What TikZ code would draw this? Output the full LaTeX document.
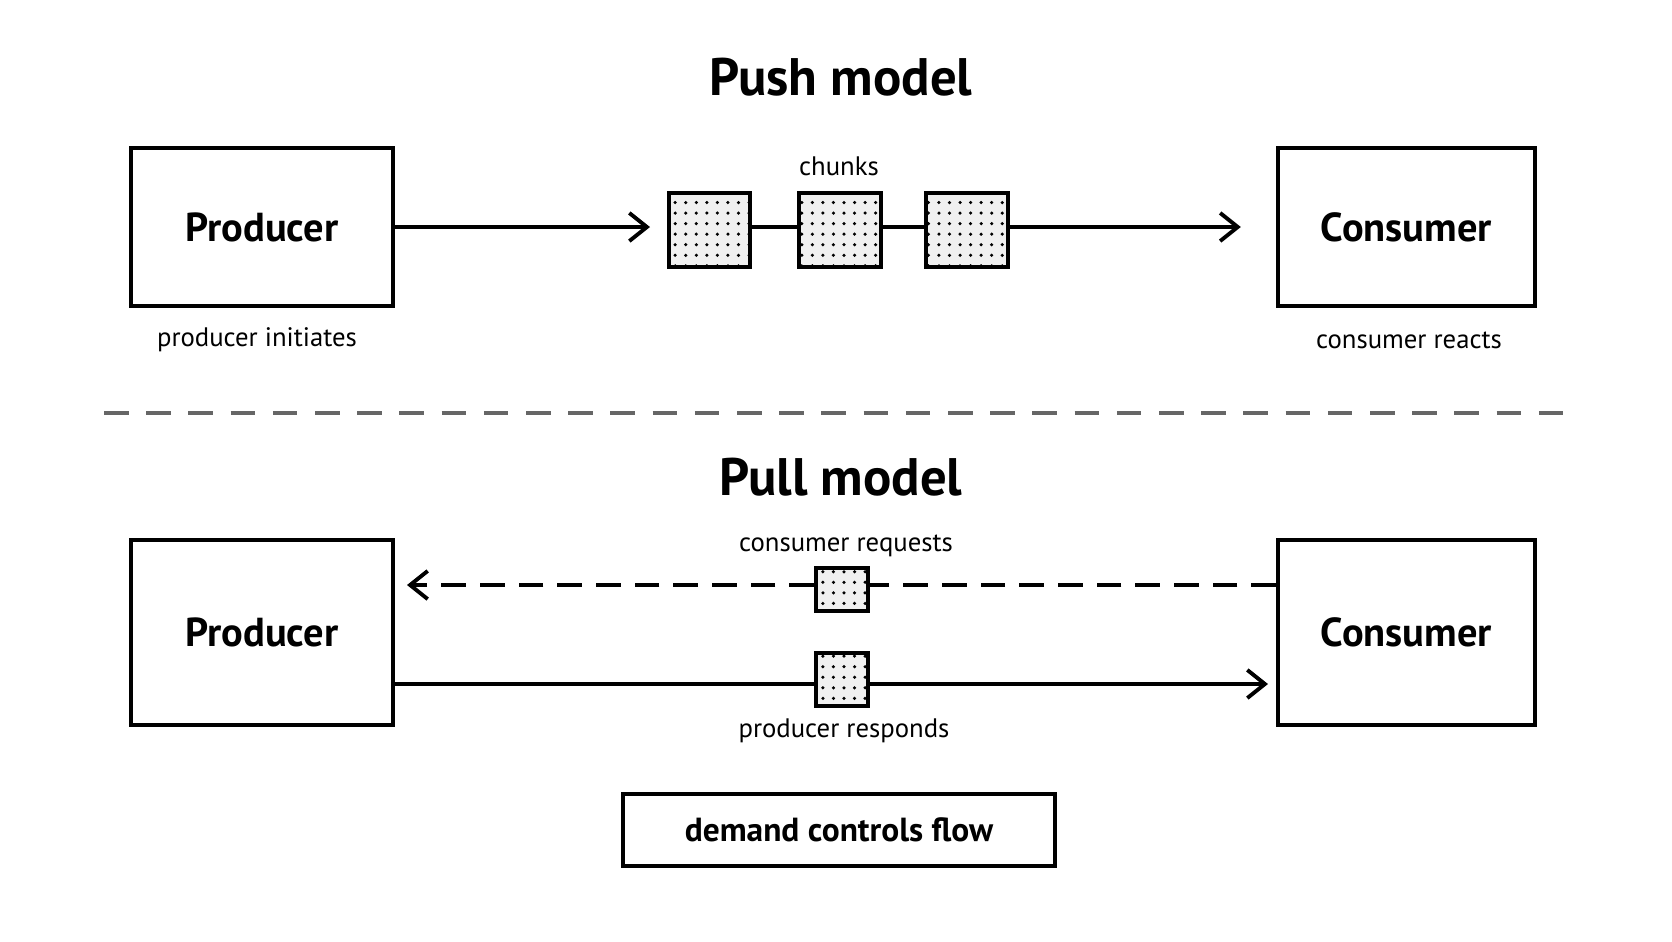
\documentclass[tikz,border=0pt]{standalone}
\usepackage{fontspec}
\setmainfont{PT Sans}
\usetikzlibrary{arrows.meta,patterns}
\tikzset{
  box/.style={draw, line width=1.1pt, minimum width=2.6cm, inner sep=0pt, font=\fontsize{11.5}{13}\selectfont\bfseries},
  chunk/.style={draw, line width=1.1pt, fill=gray!12, inner sep=0pt, postaction={pattern=dots}},
  lbl/.style={font=\fontsize{7.6}{9}\selectfont},
  ttl/.style={font=\fontsize{15}{17}\selectfont\bfseries},
  flow/.style={line width=1.1pt, -{Straight Barb[length=5pt,width=8pt,line width=1.1pt]}}
}
\begin{document}
\begin{tikzpicture}[x=0.01cm,y=-0.01cm]
  \useasboundingbox (0,0) rectangle (1672,941);
  % push model
  \node[ttl] (pushT) at (841,77) {Push model};
  \node[box, minimum width=2.62cm, minimum height=1.58cm] (prodA) at (262,227) {Producer};
  \node[box, minimum width=2.57cm, minimum height=1.58cm] (consA) at (1406.5,227) {Consumer};
  \node[chunk, minimum width=0.81cm, minimum height=0.74cm] (c1) at (709.5,230) {};
  \node[chunk, minimum width=0.82cm, minimum height=0.74cm] (c2) at (840,230) {};
  \node[chunk, minimum width=0.82cm, minimum height=0.74cm] (c3) at (967,230) {};
  \node[lbl] (chk) at (839,166) {chunks};
  \coordinate (tipA) at (650,227);
  \draw[flow] (prodA.east |- tipA) -- (tipA);
  \draw[line width=1.1pt] (c1.east |- tipA) -- (c2.west |- tipA);
  \draw[line width=1.1pt] (c2.east |- tipA) -- (c3.west |- tipA);
  \draw[flow] (c3.east |- tipA) -- ([xshift=-10]consA.west |- tipA);
  \node[lbl] (prodAl) at (257,340) {producer initiates};
  \node[lbl] (consAl) at (1409,340) {consumer reacts};

  % separator
  \coordinate (sepL) at (104,413);
  \coordinate (sepR) at (1572,413);
  \draw[line width=0.9pt, dash pattern=on 7pt off 5pt, gray!80!black] (sepL) -- (sepR);

  % pull model
  \node[ttl] (pullT) at (841,477) {Pull model};
  \node[box, minimum width=2.62cm, minimum height=1.85cm] (prodB) at (262,632.5) {Producer};
  \node[box, minimum width=2.57cm, minimum height=1.85cm] (consB) at (1406.5,632.5) {Consumer};
  \node[chunk, minimum width=0.52cm, minimum height=0.43cm] (rq) at (842,589.5) {};
  \node[chunk, minimum width=0.52cm, minimum height=0.53cm] (rs) at (842,679.5) {};
  \coordinate (tipB) at (407,585);
  \coordinate (tipC) at (1268,684);
  \draw[line width=1.1pt, dash pattern=on 7pt off 4pt] (consB.west |- tipB) -- (rq.east |- tipB);
  \draw[flow, dash pattern=on 7pt off 4pt] (rq.west |- tipB) -- (tipB);
  \draw[line width=1.1pt] (prodB.east |- tipC) -- (rs.west |- tipC);
  \draw[flow] (rs.east |- tipC) -- (tipC);
  \node[lbl] (rql) at (846,546) {consumer requests};
  \node[lbl] (rsl) at (844,731) {producer responds};
  \node[box, minimum width=4.32cm, minimum height=0.72cm, font=\fontsize{9.5}{11}\selectfont\bfseries] (dem) at (839,830) {demand controls flow};
\end{tikzpicture}
\end{document}
